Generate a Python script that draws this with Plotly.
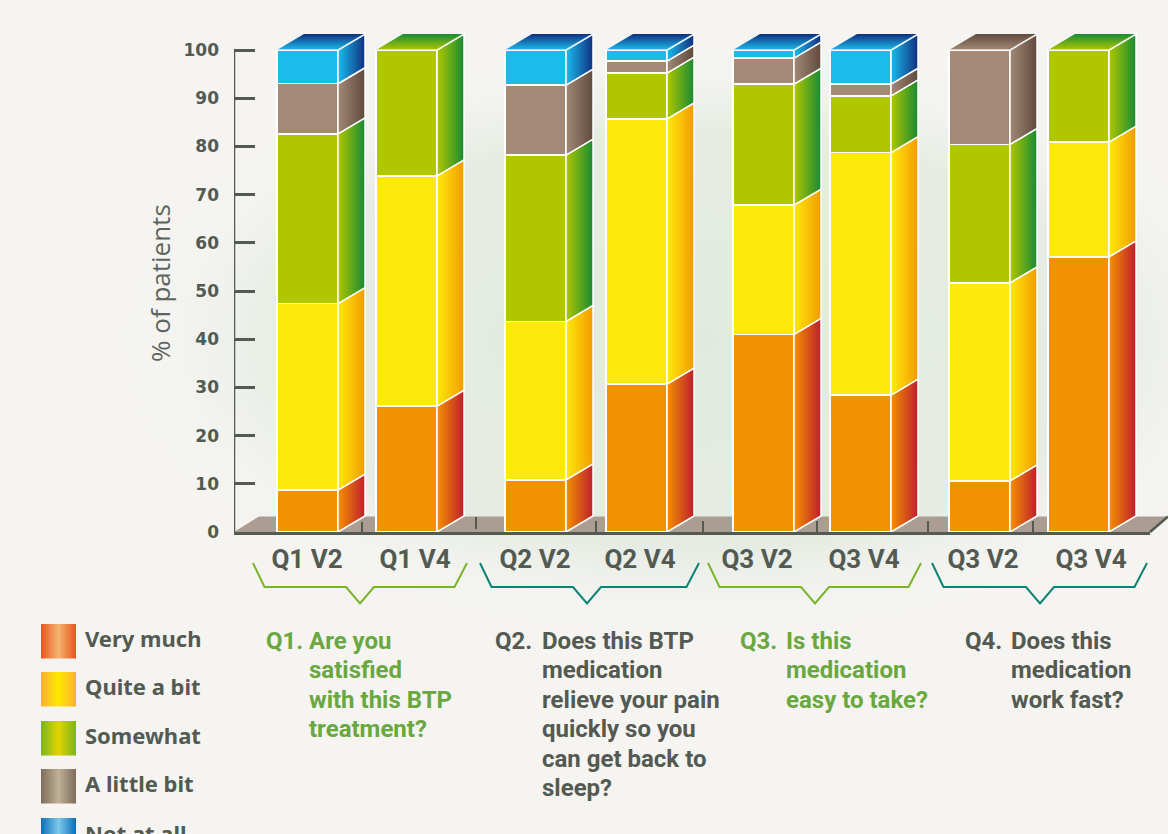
import plotly.graph_objects as go

# Survey results, percent of patients per response level
categories = ["Q1 V2", "Q1 V4", "Q2 V2", "Q2 V4", "Q3 V2", "Q3 V4", "Q3 V2", "Q3 V4"]
very_much = [8.7, 26.1, 10.8, 30.7, 41.0, 28.4, 10.6, 57.1]
quite_a_bit = [38.7, 47.8, 32.9, 55.0, 26.8, 50.3, 41.1, 23.8]
somewhat = [35.2, 26.1, 34.5, 9.5, 25.1, 11.8, 28.7, 19.1]
a_little_bit = [10.4, 0, 14.5, 2.5, 5.4, 2.4, 19.6, 0]
not_at_all = [7.0, 0, 7.3, 2.3, 1.7, 7.1, 0, 0]
y_ticks = [0, 10, 20, 30, 40, 50, 60, 70, 80, 90, 100]

W, H = 1168, 834
AXIS_LEFT, AXIS_RIGHT, Y_ZERO, Y_HUNDRED = 234, 1150, 532, 50
UNIT = (Y_ZERO - Y_HUNDRED) / 100
BAR_X = [307.5, 406.5, 535.5, 636.5, 763.5, 860.5, 979.5, 1078.5]
LABEL_X = [307, 415, 535, 640, 757, 864, 983, 1091]
BAR_W = 61
DEPTH_X = 27
DEPTH_Y = 16 / UNIT

INK = "#525a52"
GREEN_TEXT = "#69a83f"
GREEN_LINE = "#79b52a"
TEAL_LINE = "#0b8276"
HEADLINE = "Roboto"

series = [
    ("Very much", very_much, "#f39200", "#be1e2d", ["#e8531f", "#f5b470", "#e8531f"]),
    ("Quite a bit", quite_a_bit, "#fdea0c", "#f39a00", ["#fbb034", "#ffe800", "#fbb034"]),
    ("Somewhat", somewhat, "#b0c700", "#178a34", ["#7ab51d", "#e0d400", "#7ab51d"]),
    ("A little bit", a_little_bit, "#a38976", "#5f4a3e", ["#7d6c5a", "#bfb096", "#7d6c5a"]),
    ("Not at all", not_at_all, "#1bbcec", "#102f80", ["#0a6fb5", "#7cc8ec", "#0a6fb5"]),
]


def scale(colors):
    step = 1 / (len(colors) - 1)
    return [[i * step, c] for i, c in enumerate(colors)]


fig = go.Figure()

# Backdrop layer in page pixels: soft haze, floor, small ticks
fig.add_trace(go.Scatter(
    x=[110, W + 110, W + 110, 110, 110], y=[40, 40, 640, 640, 40],
    mode="none", fill="toself", hoverinfo="skip",
    fillgradient=dict(type="radial", colorscale=[
        [0, "rgba(226,234,224,1)"], [0.7, "rgba(230,236,227,1)"],
        [1, "rgba(245,244,241,0)"]]),
    xaxis="x", yaxis="y"))
fig.add_trace(go.Scatter(
    x=[AXIS_LEFT, 259, W, AXIS_RIGHT, AXIS_LEFT], y=[532, 516.5, 516.5, 532, 532],
    mode="none", fill="toself", fillcolor="#ab9d91", hoverinfo="skip",
    xaxis="x", yaxis="y"))
fig.add_trace(go.Scatter(
    x=[AXIS_RIGHT, W], y=[532, 516.5], mode="lines",
    line=dict(color=INK, width=2.5), hoverinfo="skip", xaxis="x", yaxis="y"))
for tx, y0, y1 in [(362, 522, 532), (476, 517, 529), (596, 521, 532), (703, 521, 532),
                   (817, 521, 532), (928, 521, 532), (1033, 521, 532)]:
    fig.add_trace(go.Scatter(
        x=[tx, tx], y=[y0, y1], mode="lines",
        line=dict(color=INK, width=2), hoverinfo="skip", xaxis="x", yaxis="y"))

# Front faces of the stacked bars
for name, values, front, _, _ in series:
    fig.add_trace(go.Bar(
        x=BAR_X, y=values, name=name, width=BAR_W, marker_color=front,
        marker_line=dict(color="white", width=1.5),
        xaxis="x2", yaxis="y2"))

# Value axis line stops at 100 while the plot area carries on for the bar tops
fig.add_trace(go.Scatter(
    x=[AXIS_LEFT, AXIS_LEFT], y=[0, 100], mode="lines", cliponaxis=False,
    line=dict(color=INK, width=2.5), hoverinfo="skip", xaxis="x2", yaxis="y2"))

# Side and top faces of each bar, derived from the stacked values
for i, cx in enumerate(BAR_X):
    left, right = cx - BAR_W / 2, cx + BAR_W / 2
    base = 0
    top_front, top_back = None, None
    for _, values, front, back, _ in series:
        v = values[i]
        if v <= 0:
            continue
        fig.add_trace(go.Scatter(
            x=[right, right + DEPTH_X, right + DEPTH_X, right, right],
            y=[base, base + DEPTH_Y, base + v + DEPTH_Y, base + v, base],
            mode="lines", line=dict(color="white", width=1.5), fill="toself",
            fillgradient=dict(type="horizontal", start=right, stop=right + DEPTH_X,
                              colorscale=[[0, front], [1, back]]),
            hoverinfo="skip", xaxis="x2", yaxis="y2"))
        base += v
        top_front, top_back = front, back
    fig.add_trace(go.Scatter(
        x=[left, left + DEPTH_X, right + DEPTH_X, right, left],
        y=[base, base + DEPTH_Y, base + DEPTH_Y, base, base],
        mode="none", fill="toself",
        fillgradient=dict(type="vertical", start=base, stop=base + DEPTH_Y,
                          colorscale=[[0, top_front], [1, top_back]]),
        hoverinfo="skip", xaxis="x2", yaxis="y2"))
    # Light edges along the front of the top face
    fig.add_trace(go.Scatter(
        x=[left, right, right + DEPTH_X], y=[base, base, base + DEPTH_Y],
        mode="lines", line=dict(color="rgba(255,255,255,0.75)", width=1.5),
        hoverinfo="skip", xaxis="x2", yaxis="y2"))


def brace(x0, x1, tip, color):
    xs = [x0, x0 + 11.5, tip - 14, tip, tip + 14, x1 - 12.5, x1]
    ys = [563, 587, 587, 603.5, 587, 587, 563]
    fig.add_trace(go.Scatter(x=xs, y=ys, mode="lines", line=dict(color=color, width=2),
                             hoverinfo="skip", xaxis="x", yaxis="y"))


brace(253, 467, 360, GREEN_LINE)
brace(480, 699, 587, TEAL_LINE)
brace(708, 921, 815, GREEN_LINE)
brace(932, 1147, 1040, TEAL_LINE)

# Legend swatches with their banded gradients
swatch_tops = [624, 672, 721, 769, 818]
for top, (_, _, _, _, bands) in zip(swatch_tops, series):
    fig.add_trace(go.Scatter(
        x=[41, 76, 76, 41, 41], y=[top, top, top + 34.5, top + 34.5, top],
        mode="none", fill="toself", hoverinfo="skip",
        fillgradient=dict(type="horizontal", start=41, stop=76, colorscale=scale(bands)),
        xaxis="x", yaxis="y"))

annotations = []


def label(x, y, text, color=INK, size=24, family=HEADLINE, anchor="left", yanchor="middle", weight=700, **kw):
    annotations.append(dict(
        x=x, y=y, xref="x", yref="y", text=text, showarrow=False, xanchor=anchor,
        yanchor=yanchor, font=dict(family=family, size=size, color=color, weight=weight),
        **kw))


legend_fonts = dict(size=22, family="Noto Sans")
for top, (name, *_rest) in zip(swatch_tops, series):
    if top + 17 < H - 20:
        label(83, top + 14, name, **legend_fonts)
    else:
        label(83, top - 2, name, yanchor="top", **legend_fonts)

label(160, 283, "% of patients", color="#5d645d", size=26, family="Open Sans",
      anchor="center", textangle=-90, weight=400)

questions = [
    ("Q1.", 264, 307, GREEN_TEXT, ["Are you", "satisfied", "with this BTP", "treatment?"]),
    ("Q2.", 493, 540, INK, ["Does this BTP", "medication", "relieve your pain",
                            "quickly so you", "can get back to", "sleep?"]),
    ("Q3.", 738, 784, GREEN_TEXT, ["Is this", "medication", "easy to take?"]),
    ("Q4.", 963, 1009, INK, ["Does this", "medication", "work fast?"]),
]
for prefix, px, tx, color, lines in questions:
    label(px, 641, prefix, color=color)
    for n, line in enumerate(lines):
        label(tx, 641 + n * 29.4, line, color=color)

fig.update_layout(
    template="none",
    width=W, height=H, margin=dict(l=0, r=0, t=0, b=0, pad=0), autosize=False,
    paper_bgcolor="#f5f4f1", plot_bgcolor="rgba(0,0,0,0)",
    barmode="stack", showlegend=False, hovermode=False,
    annotations=annotations,
    xaxis=dict(domain=[0, 1], range=[0, W], visible=False, fixedrange=True, anchor="y"),
    yaxis=dict(domain=[0, 1], range=[H, 0], visible=False, fixedrange=True, anchor="x"),
    xaxis2=dict(
        domain=[AXIS_LEFT / W, AXIS_RIGHT / W], range=[AXIS_LEFT, AXIS_RIGHT], anchor="y2",
        tickmode="array", tickvals=LABEL_X, ticktext=categories,
        ticks="outside", ticklen=2, tickcolor="rgba(0,0,0,0)", showgrid=False, zeroline=False,
        showline=True, linecolor=INK, linewidth=2.5, fixedrange=True,
        tickfont=dict(family=HEADLINE, size=26, color=INK, weight=700)),
    yaxis2=dict(
        domain=[(H - Y_ZERO) / H, 1], range=[0, Y_ZERO / UNIT], anchor="x2",
        tickmode="array", tickvals=y_ticks, ticks="inside", ticklen=21, tickwidth=2.5,
        tickcolor=INK, showgrid=False, zeroline=False, showline=False,
        fixedrange=True, ticklabelstandoff=14,
        tickfont=dict(family="DejaVu Sans", size=17, color=INK, weight=700)),
)

fig.write_html("out.html", config=dict(displayModeBar=False))
